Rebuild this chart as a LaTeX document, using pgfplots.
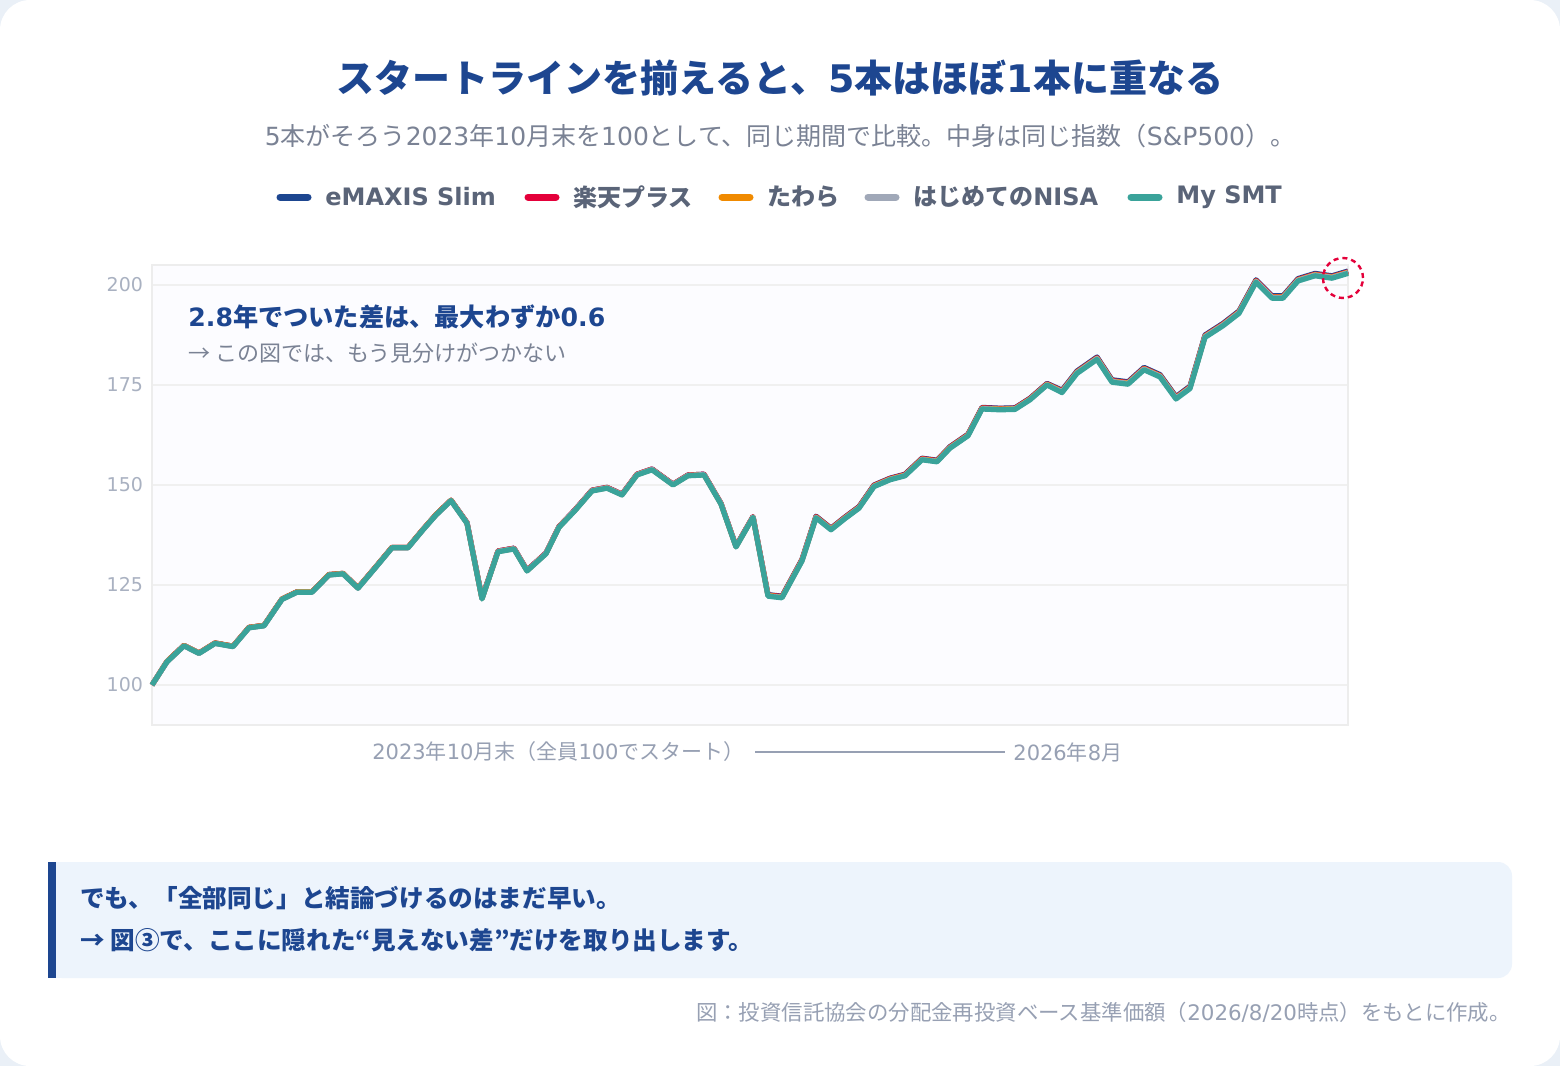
\documentclass[border=0pt]{standalone}
\usepackage{pgfplots}
\pgfplotsset{compat=1.18}
\usepackage{pgfplotstable}
\usepackage{fontspec}
\setmainfont{Noto Sans CJK JP}
\newfontfamily\lat{DejaVu Sans}
\newfontfamily\heavy{Noto Sans CJK JP Black}

\definecolor{pagebg}{HTML}{EAF0F7}
\definecolor{navy}{HTML}{1D4690}
\definecolor{rakuten}{HTML}{E4003A}
\definecolor{tawara}{HTML}{F08A00}
\definecolor{hajime}{HTML}{A0A8B8}
\definecolor{smt}{HTML}{3AA39A}
\definecolor{subgray}{HTML}{7A8294}
\definecolor{leggray}{HTML}{5A6478}
\definecolor{tickgray}{HTML}{A9B1C1}
\definecolor{axgray}{HTML}{97A0B3}
\definecolor{boxbg}{HTML}{EDF4FC}

% x = position along the period (pixel column of the reference), y = index (start = 100)
\pgfplotstableread{
x slim rakuten tawara hajime smt
152 100.0 100.0 100.0 100.0 100.0
167 105.9 105.9 105.9 105.8 105.8
184 109.9 109.9 109.9 109.8 109.8
199 108.0 108.0 108.0 107.9 107.9
215 110.5 110.5 110.5 110.4 110.4
233 109.7 109.7 109.7 109.6 109.6
249 114.4 114.4 114.4 114.3 114.3
264 114.9 114.9 114.9 114.8 114.8
282 121.5 121.5 121.5 121.4 121.4
297 123.3 123.3 123.3 123.2 123.2
312 123.3 123.3 123.3 123.2 123.2
329 127.6 127.6 127.6 127.5 127.5
343 127.9 127.9 127.9 127.8 127.8
358 124.3 124.3 124.3 124.2 124.2
375 129.3 129.3 129.3 129.2 129.2
392 134.4 134.4 134.4 134.3 134.3
408 134.4 134.4 134.4 134.3 134.3
423 138.9 138.9 138.9 138.8 138.8
436 142.6 142.6 142.6 142.5 142.5
451 146.2 146.2 146.2 146.1 146.1
467 140.6 140.6 140.5 140.5 140.4
482 121.7 121.7 121.6 121.6 121.5
498 133.5 133.5 133.4 133.4 133.3
514 134.2 134.2 134.1 134.1 134.0
527 128.7 128.7 128.6 128.6 128.5
546 133.0 133.0 132.9 132.9 132.8
559 139.6 139.6 139.5 139.5 139.4
575 143.8 143.8 143.7 143.7 143.6
592 148.7 148.7 148.6 148.6 148.5
607 149.4 149.4 149.3 149.3 149.2
622 147.7 147.7 147.6 147.6 147.5
637 152.7 152.7 152.6 152.6 152.5
652 154.0 154.0 153.9 153.9 153.8
673 150.2 150.2 150.1 150.1 150.0
688 152.5 152.5 152.4 152.4 152.3
704 152.7 152.7 152.6 152.6 152.5
721 145.4 145.4 145.3 145.3 145.2
736 134.7 134.7 134.6 134.6 134.5
753 142.1 142.1 142.0 142.0 141.9
768 122.6 122.5 122.4 122.3 122.2
782 122.2 122.1 122.0 121.9 121.8
802 131.4 131.3 131.2 131.1 131.0
816 142.2 142.1 142.0 141.9 141.8
831 139.2 139.1 139.0 138.9 138.8
845 142.0 141.9 141.8 141.7 141.6
859 144.6 144.5 144.4 144.3 144.2
874 150.0 149.9 149.8 149.7 149.6
890 151.7 151.6 151.5 151.4 151.3
905 152.7 152.6 152.5 152.4 152.3
922 156.7 156.6 156.5 156.4 156.3
937 156.2 156.1 156.0 155.9 155.8
950 159.6 159.5 159.4 159.3 159.2
968 162.7 162.6 162.5 162.4 162.3
982 169.4 169.3 169.2 169.1 169.0
1000 169.2 169.1 169.0 168.9 168.8
1015 169.3 169.2 169.1 169.0 168.9
1030 171.7 171.6 171.5 171.4 171.3
1047 175.4 175.3 175.2 175.1 175.0
1062 173.7 173.5 173.4 173.3 173.1
1077 178.5 178.3 178.2 178.1 177.9
1097 182.0 181.8 181.7 181.6 181.4
1112 176.3 176.1 176.0 175.9 175.7
1128 175.8 175.6 175.5 175.4 175.2
1144 179.4 179.2 179.1 179.0 178.8
1160 177.6 177.4 177.3 177.2 177.0
1176 172.1 171.9 171.8 171.7 171.5
1190 174.7 174.5 174.4 174.3 174.1
1205 187.5 187.3 187.2 187.1 186.9
1223 190.4 190.2 190.1 190.0 189.8
1239 193.5 193.3 193.2 193.1 192.9
1256 201.3 201.1 201.0 200.9 200.7
1272 197.3 197.1 197.0 196.9 196.7
1283 197.3 197.1 197.0 196.9 196.7
1298 201.6 201.4 201.3 201.2 201.0
1315 202.9 202.7 202.6 202.5 202.3
1332 202.3 202.1 202.0 201.9 201.7
1348 203.5 203.3 203.2 203.1 202.9
}\fundtable

\begin{document}
\begin{tikzpicture}[x=0.5pt,y=-0.5pt]
  % page + card
  \fill[pagebg] (0,0) rectangle (1560,1066);
  \fill[white, rounded corners=15pt] (0,0) rectangle (1560,1066);

  % title and subtitle
  \node[navy, font=\fontsize{19}{23}\selectfont\heavy] at (780,78)
    {スタートラインを揃えると、{\lat\bfseries 5}本はほぼ{\lat\bfseries 1}本に重なる};
  \node[subgray, font=\fontsize{12.5}{15}\selectfont] at (780,136)
    {{\lat 5}本がそろう{\lat 2023}年{\lat 10}月末を{\lat 100}として、同じ期間で比較。中身は同じ指数（{\lat S\&P500}）。};

  % legend
  \foreach \xa/\col/\lab in {277/navy/{\lat eMAXIS Slim}, 525/rakuten/楽天プラス, 719/tawara/たわら, 865/hajime/はじめての{\lat NISA}, 1128/smt/{\lat My SMT}}{
    \draw[\col, line width=3.5pt, line cap=round] (\xa+3,197) -- (\xa+31,197);
    \node[leggray, anchor=west, inner sep=0pt, font=\fontsize{12}{14}\selectfont\bfseries] at (\xa+48,197) {\lab};
  }

  \begin{axis}[
    at={(76pt,-362.5pt)}, anchor=south west,
    scale only axis,
    width=598pt, height=230pt,
    xmin=152, xmax=1348,
    ymin=90, ymax=205,
    ytick={100,125,150,175,200},
    xtick=\empty,
    major tick length=0pt,
    ymajorgrids,
    grid style={draw=black!6, line width=0.6pt},
    axis line style={draw=black!7, line width=0.8pt},
    axis background/.style={fill=blue!1!white},
    tick label style={tickgray, font=\fontsize{9.5}{11}\selectfont\lat},
    /pgf/number format/assume math mode=true,
    yticklabel style={xshift=-1pt},
    clip=false,
    every axis plot/.append style={line width=2.6pt, line join=round, no markers},
  ]
    \addplot[navy] table[x=x, y=slim] {\fundtable};
    \addplot[rakuten] table[x=x, y=rakuten] {\fundtable};
    \addplot[tawara] table[x=x, y=tawara] {\fundtable};
    \addplot[hajime] table[x=x, y=hajime] {\fundtable};
    \addplot[smt] table[x=x, y=smt] {\fundtable};

    \draw[rakuten, line width=1.2pt, dash pattern=on 2.5pt off 2pt]
      (axis cs:1343,201.75) circle[radius=10pt];
  \end{axis}

  % annotation inside the plot
  \node[navy, anchor=west, inner sep=0pt, font=\fontsize{12.6}{15}\selectfont\bfseries] at (188,317)
    {{\lat\bfseries 2.8}年でついた差は、最大わずか{\lat\bfseries 0.6}};
  \node[subgray, anchor=west, inner sep=0pt, font=\fontsize{11}{13}\selectfont] at (188,353)
    {→ この図では、もう見分けがつかない};

  % x-axis span label
  \node[axgray, anchor=east, inner sep=0pt, font=\fontsize{10.5}{12}\selectfont] at (745,752)
    {{\lat 2023}年{\lat 10}月末（全員{\lat 100}でスタート）};
  \draw[axgray, line width=0.7pt] (755,752) -- (1005,752);
  \node[axgray, anchor=west, inner sep=0pt, font=\fontsize{10.5}{12}\selectfont] at (1013,752)
    {{\lat 2026}年{\lat 8}月};

  % callout box
  \fill[boxbg, rounded corners=7pt] (48,862) rectangle (1512,978);
  \fill[boxbg] (48,862) rectangle (70,978);
  \fill[navy] (48,862) rectangle (56,978);
  \node[navy, anchor=west, inner sep=0pt, font=\fontsize{12.3}{14}\selectfont\bfseries] at (80,898)
    {でも、「全部同じ」と結論づけるのはまだ早い。};
  \node[navy, anchor=west, inner sep=0pt, font=\fontsize{12.3}{14}\selectfont\bfseries] at (80,940)
    {→ 図③で、ここに隠れた“見えない差”だけを取り出します。};

  % source
  \node[axgray, anchor=east, inner sep=0pt, font=\fontsize{10.7}{12}\selectfont] at (1511,1012)
    {図：投資信託協会の分配金再投資ベース基準価額（{\lat 2026/8/20}時点）をもとに作成。};
\end{tikzpicture}
\end{document}
